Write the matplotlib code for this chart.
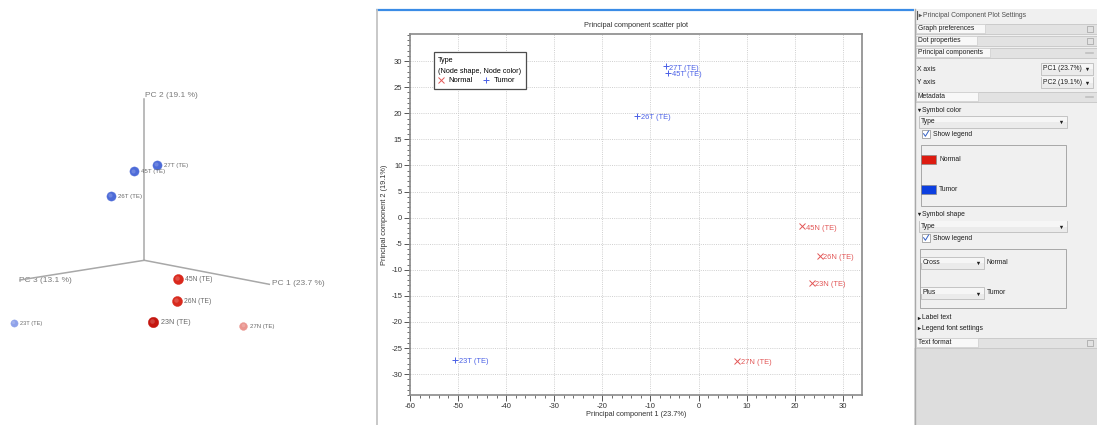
"""PCA screenshot: 3D view, 2D scatter and the settings side panel."""
import matplotlib
matplotlib.use('Agg')
import matplotlib.pyplot as plt
from matplotlib.patches import Rectangle
import numpy as np

plt.rcParams['font.family'] = ['Liberation Sans', 'DejaVu Sans']
plt.rcParams['axes.unicode_minus'] = False

W, H = 1097, 425

# samples and their group
samples = ['23N (TE)', '26N (TE)', '27N (TE)', '45N (TE)', '23T (TE)', '26T (TE)', '27T (TE)', '45T (TE)']
sample_type = ['Normal', 'Normal', 'Normal', 'Normal', 'Tumor', 'Tumor', 'Tumor', 'Tumor']
# PC1 / PC2 scores (2D scatter)
pc1 = [23.5, 25.2, 8.1, 21.6, -50.6, -12.8, -6.8, -6.3]
pc2 = [-12.5, -7.3, -27.5, -1.7, -27.3, 19.5, 29.0, 27.8]
# projected positions in the 3D view (origin of the PC axes = 0,0)
view_x = [9.0, 32.4, 99.0, 33.4, -130.3, -33.6, 12.7, -10.6]
view_y = [-62.0, -40.7, -65.7, -18.7, -62.4, 64.6, 95.6, 89.0]
view_color = ['#c4160f', '#d82a1e', '#ea9690', '#da281c', '#8fa2ea', '#4d6bd8', '#4d6bd8', '#4d6bd8']
view_size = [7.5, 7.2, 5.6, 7.2, 5.2, 6.6, 6.6, 6.6]
view_font = [5.2, 4.9, 4.3, 4.9, 4.1, 4.4, 4.4, 4.4]
# 3D axis end points and titles
axis_names = ['PC 1 (23.7 %)', 'PC 2 (19.1 %)', 'PC 3 (13.1 %)']
axis_end_x = [125.0, 0.0, -124.3]
axis_end_y = [-24.0, 161.0, -19.7]

types = ['Normal', 'Tumor']
type_marker = {'Normal': 'x', 'Tumor': '+'}
type_color = {'Normal': '#e25656', 'Tumor': '#4a60e6'}

fig = plt.figure(figsize=(W / 100, H / 100), dpi=100)

# background layer in pixel units (screen chrome)
bg = fig.add_axes([0, 0, 1, 1], zorder=0)
bg.set_xlim(0, W); bg.set_ylim(H, 0); bg.axis('off')


def px(x0, y0, w, h):
    return [x0 / W, 1 - (y0 + h) / H, w / W, h / H]


# ---- middle panel frame
bg.add_patch(Rectangle((376, 10), 538, 415, fc='white', ec='none'))
bg.plot([376, 914], [10, 10], color='#3a8ce6', lw=1.6, solid_capstyle='butt')
bg.plot([377, 377], [10, 425], color='#c4c4c4', lw=1.3)

# ---- settings panel
bg.add_patch(Rectangle((914, 0), 183, 425, fc='#f0f0f0', ec='none'))
bg.add_patch(Rectangle((914, 0), 183, 9, fc='white', ec='none'))
bg.add_patch(Rectangle((914, 348), 183, 77, fc='#dddddd', ec='none'))
bg.plot([914.5, 914.5], [9, 425], color='#a9a9a9', lw=1)
TXT = '#1e1e1e'
FS = 4.9


def header(y0, y1, label, tab_right, icon):
    bg.add_patch(Rectangle((915, y0), 182, y1 - y0, fc='#e2e2e2', ec='#c6c6c6', lw=0.6))
    bg.add_patch(Rectangle((916, y0 + 0.8), tab_right - 916, y1 - y0 - 1.6, fc='#f8f8f8', ec='#cdcdcd', lw=0.5))
    m = (y0 + y1) / 2
    bg.text(918, m, label, fontsize=FS, va='center', color=TXT)
    if icon == 'box':
        bg.add_patch(Rectangle((1087, m - 3), 6, 6, fc='none', ec='#a0a0a0', lw=0.5))
    else:
        bg.plot([1086, 1093], [m, m], color='#c0c0c0', lw=1.2)


def combo(x0, x1, y0, y1, label):
    bg.add_patch(Rectangle((x0, y0), x1 - x0, y1 - y0, fc='#ebebeb', ec='#b3b3b3', lw=0.5))
    bg.add_patch(Rectangle((x0 + 0.5, y0 + 0.5), x1 - x0 - 1, (y1 - y0) / 2, fc='#f6f6f6', ec='none'))
    m = (y0 + y1) / 2
    bg.text(x0 + 2, m, label, fontsize=FS, va='center', color=TXT)
    bg.plot(x1 - 6, m + 0.5, marker='v', ms=2.4, color='#202020', mew=0)


def checkbox(y, label):
    bg.add_patch(Rectangle((922, y - 4), 8, 8, fc='white', ec='#8c8c8c', lw=0.5))
    bg.plot([923.6, 925.4, 928.6], [y - 0.3, y + 2.3, y - 3], color='#3360c4', lw=0.7)
    bg.text(933, y, label, fontsize=FS, va='center', color=TXT)


def expander(y, label, is_open):
    bg.plot(918.5, y, marker='v' if is_open else '>', ms=2.4, color='#202020', mew=0)
    bg.text(922, y, label, fontsize=FS, va='center', color=TXT)


bg.plot([917, 917], [11, 19], color='#555555', lw=0.8)
bg.plot(920, 15, marker='>', ms=2.6, color='#555555', mew=0)
bg.text(923, 15, 'Principal Component Plot Settings', fontsize=FS, va='center', color='#505050')
header(23.5, 34, 'Graph preferences', 985, 'box')
header(35.5, 46, 'Dot properties', 977, 'box')
header(47.5, 58, 'Principal components', 990, 'dash')
bg.text(917, 69, 'X axis', fontsize=FS, va='center', color=TXT)
combo(1041, 1093, 63, 74.5, 'PC1 (23.7%)')
bg.text(917, 82, 'Y axis', fontsize=FS, va='center', color=TXT)
combo(1041, 1093, 76.5, 87.5, 'PC2 (19.1%)')
header(91.5, 102, 'Metadata', 978, 'dash')
expander(110, 'Symbol color', True)
combo(919, 1067, 116, 127.5, 'Type')
checkbox(134, 'Show legend')
bg.add_patch(Rectangle((920.5, 144.5), 145, 61, fc='none', ec='#9c9c9c', lw=0.6))
bg.add_patch(Rectangle((921.3, 155.3), 15, 9, fc='#dd1b10', ec='#8a8a8a', lw=0.5))
bg.text(939, 159.8, 'Normal', fontsize=FS, va='center', color=TXT)
bg.add_patch(Rectangle((921.3, 185), 15, 9, fc='#0c3fe0', ec='#8a8a8a', lw=0.5))
bg.text(939, 189.5, 'Tumor', fontsize=FS, va='center', color=TXT)
expander(214, 'Symbol shape', True)
combo(919, 1067, 220.5, 231.8, 'Type')
checkbox(238, 'Show legend')
bg.add_patch(Rectangle((920, 248.7), 145.7, 59, fc='none', ec='#9c9c9c', lw=0.6))
combo(920.5, 984, 257.3, 268.5, 'Cross')
bg.text(986.5, 262.5, 'Normal', fontsize=FS, va='center', color=TXT)
combo(920.5, 984, 287.3, 298.7, 'Plus')
bg.text(986.5, 292.5, 'Tumor', fontsize=FS, va='center', color=TXT)
expander(317.5, 'Label text', False)
expander(328.2, 'Legend font settings', False)
header(337.5, 347.5, 'Text format', 978, 'box')

# ---- 3D view (left)
v = fig.add_axes(px(0, 0, 376, H), zorder=1)
v.set_xlim(-144.3, 376 - 144.3); v.set_ylim(-164.7, 260.3); v.axis('off')
for name, ex, ey in zip(axis_names, axis_end_x, axis_end_y):
    v.plot([0, ex], [0, ey], color='#a8a8a8', lw=1.1, zorder=1)
v.text(axis_end_x[0] + 3, axis_end_y[0] + 1, axis_names[0], fontsize=6, color='#7a7a7a', va='center', ha='left')
v.text(axis_end_x[1] + 1, axis_end_y[1] + 4, axis_names[1], fontsize=6, color='#7a7a7a', va='center', ha='left')
v.text(axis_end_x[2] - 1, axis_end_y[2] - 1, axis_names[2], fontsize=6, color='#7a7a7a', va='center', ha='left', zorder=0)
for name, x, y, c, s, f in zip(samples, view_x, view_y, view_color, view_size, view_font):
    v.plot(x, y, 'o', ms=s, color=c, mec=c, mew=0.3, zorder=3)
    v.plot(x - s * 0.12, y + s * 0.12, 'o', ms=s * 0.45, color='white', alpha=0.18, mew=0, zorder=4)
    v.annotate(name, (x, y), xytext=(s / 2 + 2, -0.5), textcoords='offset points',
               fontsize=f, color='#6a6a6a', va='center', ha='left', zorder=5)

# ---- 2D scatter
ax = fig.add_axes(px(410, 34, 452, 361), zorder=2)
for t in types:
    xs = [a for a, g in zip(pc1, sample_type) if g == t]
    ys = [b for b, g in zip(pc2, sample_type) if g == t]
    ax.plot(xs, ys, linestyle='none', marker=type_marker[t], ms=4.2, mew=0.7,
            color=type_color[t], label=t, zorder=3)
for name, x, y, g in zip(samples, pc1, pc2, sample_type):
    ax.annotate(name, (x, y), xytext=(2.6, -1.3), textcoords='offset points',
                fontsize=5.4, color=type_color[g], va='center', ha='left')
ax.set_xlim(-60, 34); ax.set_ylim(-34, 35.2)
ax.set_xticks(np.arange(-60, 31, 10)); ax.set_xticks(np.arange(-60, 34, 2), minor=True)
ax.set_yticks(np.arange(-30, 31, 5)); ax.set_yticks(np.arange(-34, 36, 1), minor=True)
ax.tick_params(which='major', direction='out', length=4, width=0.7, color='#555555',
               labelsize=5.5, labelcolor='#333333', pad=1.5)
ax.tick_params(which='minor', direction='out', length=2.2, width=0.6, color='#555555')
ax.grid(which='major', linestyle=(0, (1.2, 1.4)), color='#c9c9c9', lw=0.6)
for s in ax.spines.values():
    s.set_color('#8a8a8a'); s.set_linewidth(1.2)
ax.set_title('Principal component scatter plot', fontsize=5.3, color='#333333', pad=5)
ax.set_xlabel('Principal component 1 (23.7%)', fontsize=5.3, color='#333333', labelpad=1)
ax.set_ylabel('Principal component 2 (19.1%)', fontsize=5.3, color='#333333', labelpad=2.5)
leg = ax.legend(title='Type\n(Node shape, Node color)', ncol=2, loc='upper left',
                bbox_to_anchor=(0.052, 0.949), borderaxespad=0, fontsize=5.4, title_fontsize=5.2,
                fancybox=False, edgecolor='#4d4d4d', framealpha=1, alignment='left',
                handlelength=0.8, handletextpad=0.6, columnspacing=1.4, borderpad=0.6,
                labelspacing=0.3)
leg.get_title().set_linespacing(1.8)
leg.get_frame().set_linewidth(0.9)

fig.savefig('out.png', dpi=100)
